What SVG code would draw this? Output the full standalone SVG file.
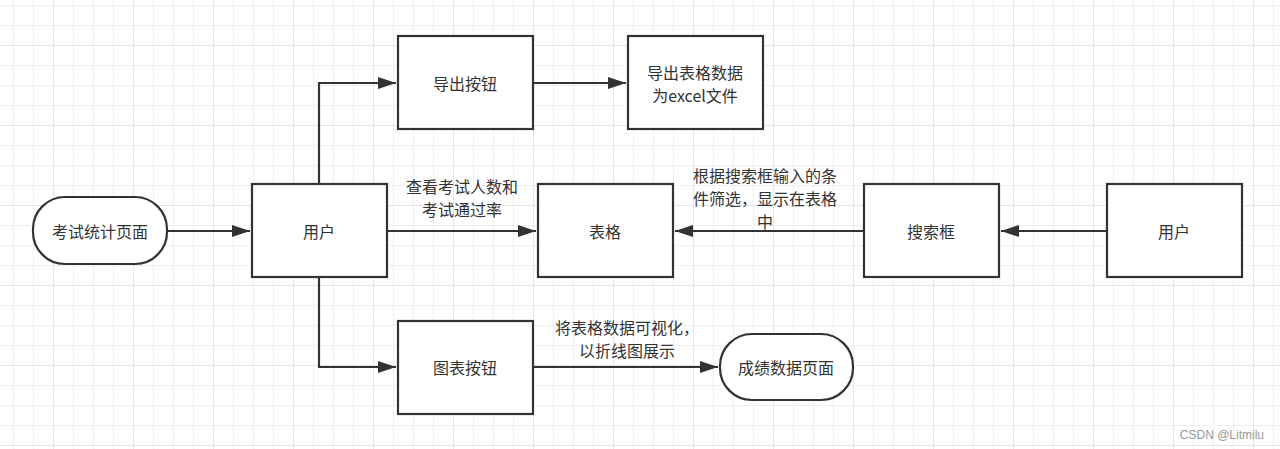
<svg xmlns="http://www.w3.org/2000/svg" width="1280" height="449" viewBox="0 0 1280 449">
<defs>
<pattern id="gmin" x="13" y="5" width="20" height="20" patternUnits="userSpaceOnUse">
<path d="M0 0V20M0 0H20" fill="none" stroke="#ececec" stroke-width="1.5"/>
</pattern>
<pattern id="gmaj" x="53" y="45" width="80" height="80" patternUnits="userSpaceOnUse">
<path d="M0 0V80M0 0H80" fill="none" stroke="#e2e2e2" stroke-width="1.5"/>
</pattern>
<marker id="ah" markerWidth="18" markerHeight="12" refX="18" refY="6" orient="auto" markerUnits="userSpaceOnUse">
<path d="M0 0L18 6L0 12Z" fill="#333"/>
</marker>
<style>
.n{fill:#fff;stroke:#333;stroke-width:2.2}
.t{font-family:"Noto Sans CJK SC","Liberation Sans",sans-serif;font-size:16px;fill:#333;text-anchor:middle;dominant-baseline:central}
.c{fill:none;stroke:#333;stroke-width:2.2}
</style>
</defs>
<rect width="1280" height="449" fill="#fff"/>
<rect width="1280" height="449" fill="url(#gmin)"/>
<rect width="1280" height="449" fill="url(#gmaj)"/>
<g id="connectors">
<path class="c" d="M168 231H250" marker-end="url(#ah)"/>
<path class="c" d="M319 184V83H396" marker-end="url(#ah)"/>
<path class="c" d="M533 83H626" marker-end="url(#ah)"/>
<path class="c" d="M387 231H536" marker-end="url(#ah)"/>
<path class="c" d="M864 231H675" marker-end="url(#ah)"/>
<path class="c" d="M1107 231H1001" marker-end="url(#ah)"/>
<path class="c" d="M319 277V367H396" marker-end="url(#ah)"/>
<path class="c" d="M533 367H718" marker-end="url(#ah)"/>
</g>
<g id="labels">
<text class="t" x="462" y="186">查看考试人数和</text>
<text class="t" x="462" y="209">考试通过率</text>
<text class="t" x="765" y="175">根据搜索框输入的条</text>
<text class="t" x="765" y="198">件筛选，显示在表格</text>
<text class="t" x="765" y="221">中</text>
<text class="t" x="627" y="327">将表格数据可视化，</text>
<text class="t" x="627" y="350">以折线图展示</text>
</g>
<g id="start"><rect class="n" x="33" y="197" width="134" height="67" rx="32"/><text class="t" x="100" y="231">考试统计页面</text></g>
<g id="user1"><rect class="n" x="252" y="184" width="135" height="93"/><text class="t" x="319" y="231">用户</text></g>
<g id="export"><rect class="n" x="398" y="36" width="135" height="93"/><text class="t" x="465" y="83">导出按钮</text></g>
<g id="excel"><rect class="n" x="628" y="36" width="135" height="93"/><text class="t" x="695" y="72">导出表格数据</text><text class="t" x="695" y="95">为excel文件</text></g>
<g id="table"><rect class="n" x="538" y="184" width="135" height="93"/><text class="t" x="605" y="231">表格</text></g>
<g id="search"><rect class="n" x="864" y="184" width="135" height="93"/><text class="t" x="931" y="231">搜索框</text></g>
<g id="user2"><rect class="n" x="1107" y="184" width="135" height="93"/><text class="t" x="1174" y="231">用户</text></g>
<g id="chart"><rect class="n" x="398" y="321" width="135" height="93"/><text class="t" x="465" y="367">图表按钮</text></g>
<g id="score"><rect class="n" x="720" y="334" width="133" height="66" rx="32"/><text class="t" x="786" y="367">成绩数据页面</text></g>
<text x="1264" y="439" font-family="Liberation Sans, sans-serif" font-size="12" fill="#999" text-anchor="end">CSDN @Litmilu</text>
</svg>
